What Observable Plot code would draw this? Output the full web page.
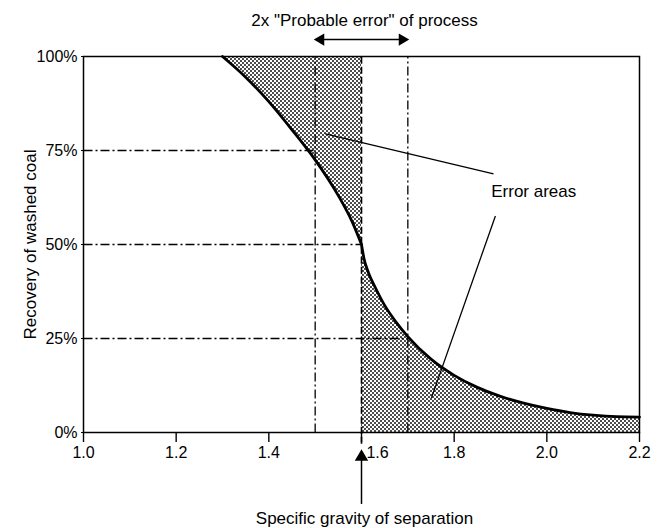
<!DOCTYPE html>
<html>
<head>
<meta charset="utf-8">
<script src="https://cdn.jsdelivr.net/npm/d3@7"></script>
<script src="https://cdn.jsdelivr.net/npm/@observablehq/plot@0.6"></script>
<style>
  body { margin: 0; background: #fff; }
  svg { font-family: "Liberation Sans", Arial, sans-serif; }
</style>
</head>
<body>
<div id="chart"></div>
<script>
// Partition curve, upper branch (specific gravity, % recovery)
const sgUpper = [1.30, 1.35, 1.40, 1.45, 1.50, 1.55, 1.58, 1.60];
const recUpper = [100, 94.5, 88, 80.5, 72.5, 63, 56, 50];
// lower branch
const sgLower = [1.60, 1.605, 1.615, 1.63, 1.65, 1.675, 1.70, 1.75, 1.80, 1.85, 1.90, 1.95, 2.00, 2.05, 2.10, 2.15, 2.20];
const recLower = [50, 46.5, 42.5, 38.5, 33.8, 29.3, 25.5, 19.5, 15.2, 12, 9.6, 7.8, 6.4, 5.3, 4.6, 4.2, 4.1];
// reference lines
const refSG = [1.5, 1.6, 1.7];
const refRec = [75, 50, 25];
const xTicks = [1.0, 1.2, 1.4, 1.6, 1.8, 2.0, 2.2];
const yTicks = [0, 25, 50, 75, 100];
const yTickLabels = ["0%", "25%", "50%", "75%", "100%"];
// annotation texts
const titleTop = "2x \"Probable error\" of process";
const xTitle = "Specific gravity of separation";
const yTitle = "Recovery of washed coal";
const errLabel = "Error areas";
const errLabelPos = {x: 1.88, y: 64};
const leaders = [
  {x1: 1.885, y1: 68.8, x2: 1.522, y2: 79.4},
  {x1: 1.889, y1: 57.6, x2: 1.751, y2: 9.2}
];
const peArrowY = 104.5;   // probable error span arrow level (% axis units, above frame)
const sepArrow = {x: 1.6, yTop: -6.5, yBottom: -19};

const upper = sgUpper.map((x, i) => ({x, y: recUpper[i]}));
const lower = sgLower.map((x, i) => ({x, y: recLower[i]}));
const vert = refSG.map(x => ({x}));
const horiz = refSG.map((x, i) => ({x1: 1.0, x2: x, y: refRec[i]}));

const stip = "url(#stipple)";
const dashDot = "9,3,2,3";
const fmt = d3.format(".1f");
const sepTick = 1.6;

const plot = Plot.plot({
  width: 657,
  height: 528,
  marginLeft: 83,
  marginRight: 18,
  marginTop: 56,
  marginBottom: 96,
  style: {fontSize: "16px", fontFamily: "'Liberation Sans', Arial, sans-serif", background: "#fff", color: "#000"},
  x: {domain: [1.0, 2.2]},
  y: {domain: [0, 100]},
  marks: [
    Plot.areaY(upper, {x: "x", y1: "y", y2: 100, fill: stip, curve: "monotone-x"}),
    Plot.areaY(lower, {x: "x", y1: 0, y2: "y", fill: stip, curve: "monotone-x"}),
    // horizontal dash-dot reference lines
    Plot.link(horiz, {x1: "x1", x2: "x2", y1: "y", y2: "y", stroke: "#000", strokeWidth: 1.3, strokeDasharray: dashDot}),
    // vertical reference lines
    Plot.link(vert.filter(d => d.x !== sepTick), {x1: "x", x2: "x", y1: 0, y2: 100, stroke: "#000", strokeWidth: 1.3, strokeDasharray: dashDot}),
    Plot.link(vert.filter(d => d.x === sepTick), {x1: "x", x2: "x", y1: -3, y2: 100, stroke: "#000", strokeWidth: 1.6, strokeDasharray: "7,3"}),
    // curve
    Plot.line(upper, {x: "x", y: "y", stroke: "#000", strokeWidth: 2.8, curve: "monotone-x"}),
    Plot.line(lower, {x: "x", y: "y", stroke: "#000", strokeWidth: 2.8, curve: "monotone-x"}),
    Plot.frame({stroke: "#000", strokeWidth: 1.5}),
    Plot.axisX({ticks: xTicks, tickFormat: d => d === sepTick ? "" : fmt(d), tickSize: 10, tickPadding: 4, label: null, fontSize: 16, stroke: "#000", strokeWidth: 1.4}),
    Plot.text([sepTick], {x: d => d, frameAnchor: "bottom", lineAnchor: "top", dy: 14, dx: 16, text: d => fmt(d), fontSize: 16}),
    Plot.axisY({ticks: yTicks, tickFormat: d => yTickLabels[yTicks.indexOf(d)], tickSize: 2, tickPadding: 4, label: null, fontSize: 16}),
    // leader lines
    Plot.link(leaders, {x1: "x1", y1: "y1", x2: "x2", y2: "y2", stroke: "#000", strokeWidth: 1.3}),
    Plot.text([errLabel], {x: errLabelPos.x, y: errLabelPos.y, text: d => d, textAnchor: "start", fontSize: 17}),
    // probable error double arrow above the frame
    Plot.link([{a: 1.5, b: 1.7}], {x1: d => d.a + 0.012, x2: d => d.b - 0.012, y1: peArrowY, y2: peArrowY, stroke: "#000", strokeWidth: 1.5}),
    Plot.dot([{x: 1.5, r: -90}, {x: 1.7, r: 90}], {x: d => d.x + (d.r < 0 ? 0.012 : -0.012), y: peArrowY, symbol: "triangle", r: 4.5, rotate: "r", fill: "#000", stroke: "none"}),
    // separation arrow below the axis
    Plot.link([sepArrow], {x1: "x", x2: "x", y1: "yBottom", y2: "yTop", stroke: "#000", strokeWidth: 1.5}),
    Plot.dot([sepArrow], {x: "x", y: "yTop", symbol: "triangle", r: 5, fill: "#000", stroke: "none"}),
    // titles
    Plot.text([titleTop], {frameAnchor: "top", lineAnchor: "middle", dy: -36, dx: 3, text: d => d, fontSize: 17}),
    Plot.text([xTitle], {frameAnchor: "bottom", lineAnchor: "middle", dy: 86, dx: 3, text: d => d, fontSize: 17}),
    Plot.text([yTitle], {frameAnchor: "left", textAnchor: "middle", lineAnchor: "middle", dx: -53, rotate: -90, text: d => d, fontSize: 17})
  ]
});

// stipple pattern definition
const svg = d3.select(plot);
const defs = svg.insert("defs", ":first-child");
const pat = defs.append("pattern").attr("id", "stipple").attr("patternUnits", "userSpaceOnUse")
  .attr("width", 4).attr("height", 4);
pat.append("rect").attr("width", 4).attr("height", 4).attr("fill", "#fff");
pat.append("circle").attr("cx", 1).attr("cy", 1).attr("r", 0.95).attr("fill", "#000");
pat.append("circle").attr("cx", 3).attr("cy", 3).attr("r", 0.95).attr("fill", "#000");

document.getElementById("chart").append(plot);
</script>
</body>
</html>
